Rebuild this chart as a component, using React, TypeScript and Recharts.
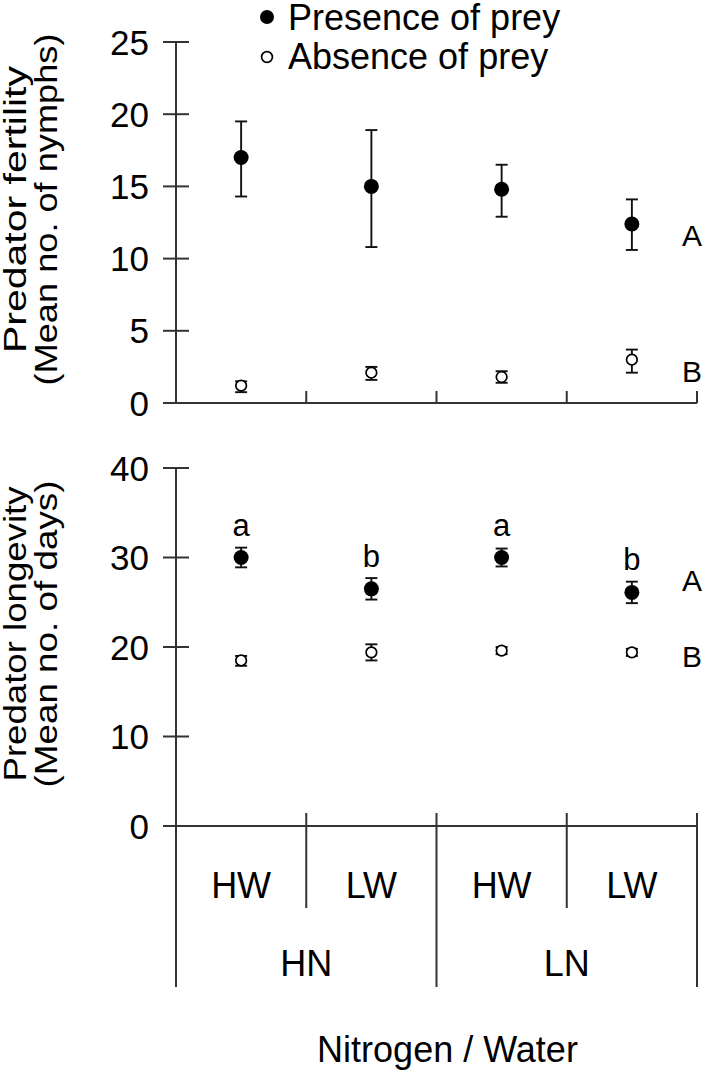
import React from "react";
import {
  ScatterChart,
  Scatter,
  XAxis,
  YAxis,
  ErrorBar,
  Legend,
  ReferenceDot,
} from "recharts";

const FONT = '"Liberation Sans", Arial, Helvetica, sans-serif';
const INK = "#000";
const LINE = "#333";

// legend / series names in display order
const seriesNames = ["Presence of prey", "Absence of prey"];

// treatments, left to right
const waterLevels = ["HW", "LW", "HW", "LW"];
const nitrogenLevels = ["HN", "LN"];

// fertility (mean no. of nymphs), with error bar ends
const fertilityPresence = [17.0, 15.0, 14.8, 12.4];
const fertilityPresenceLow = [14.3, 10.8, 12.9, 10.6];
const fertilityPresenceHigh = [19.5, 18.9, 16.5, 14.1];
const fertilityAbsence = [1.2, 2.1, 1.8, 3.0];
const fertilityAbsenceLow = [0.75, 1.6, 1.4, 2.1];
const fertilityAbsenceHigh = [1.5, 2.5, 2.2, 3.7];

// longevity (mean no. of days)
const longevityPresence = [30.0, 26.5, 30.0, 26.1];
const longevityPresenceLow = [28.9, 25.3, 29.0, 24.9];
const longevityPresenceHigh = [31.1, 27.7, 31.0, 27.3];
const longevityAbsence = [18.5, 19.4, 19.6, 19.4];
const longevityAbsenceLow = [17.9, 18.5, 19.2, 19.0];
const longevityAbsenceHigh = [19.0, 20.3, 20.0, 19.8];
const longevityLetters = ["a", "b", "a", "b"];

// group letters on the right
const fertilityGroups = [
  { letter: "A", y: 11.6 },
  { letter: "B", y: 2.2 },
];
const longevityGroups = [
  { letter: "A", y: 27.5 },
  { letter: "B", y: 19.0 },
];

const fertilityTicks = [0, 5, 10, 15, 20, 25];
const longevityTicks = [0, 10, 20, 30, 40];

type Pt = { pos: number; y: number; err: [number, number]; letter?: string };

const toPoints = (mean: number[], low: number[], high: number[], letters?: string[]): Pt[] =>
  mean.map((m, i) => ({
    pos: i + 0.5,
    y: m,
    err: [m - low[i], high[i] - m],
    letter: letters?.[i],
  }));

const FilledDot = (p: any) => <circle cx={p.cx} cy={p.cy} r={7.5} fill={INK} />;
const HollowDot = (p: any) => (
  <circle cx={p.cx} cy={p.cy} r={5.3} fill="#fff" stroke={INK} strokeWidth={1.7} />
);
const LetteredDot = (p: any) => (
  <g>
    <circle cx={p.cx} cy={p.cy} r={7.5} fill={INK} />
    <text x={p.cx} y={p.cy - 22} textAnchor="middle" fontSize={31} fontFamily={FONT} fill={INK}>
      {p.payload?.letter}
    </text>
  </g>
);

const GroupLetter = (p: any) => (
  <text
    x={p.cx - 5}
    y={p.cy}
    dy="0.358em"
    textAnchor="middle"
    fontSize={30}
    fontFamily={FONT}
    fill={INK}
  >
    {p.letter}
  </text>
);

// y ticks cross the axis line
const YTick = (props: any) => {
  const { x, y, payload } = props;
  return (
    <g>
      <line x1={x - 13} x2={x + 13} y1={y} y2={y} stroke={LINE} strokeWidth={2} />
      <text
        x={x - 27}
        y={y}
        dy="0.358em"
        textAnchor="end"
        fontSize={35}
        fontFamily={FONT}
        fill={INK}
      >
        {payload.value}
      </text>
    </g>
  );
};

// top panel: short dividers pointing up into the plot
const DividerTick = (props: any) => {
  const { x, y, payload } = props;
  if (payload.value === 0) return <g />;
  return <line x1={x} x2={x} y1={y - 12} y2={y} stroke={LINE} strokeWidth={2} />;
};

// bottom panel: nested category axis
const TreatmentTick = (props: any) => {
  const { x, y, payload } = props;
  const v = payload.value as number;
  if (Number.isInteger(v)) {
    const major = v % 2 === 0;
    return (
      <g>
        <line x1={x} x2={x} y1={y - 13} y2={y + (major ? 161 : 82)} stroke={LINE} strokeWidth={2} />
        {!major && (
          <text
            x={x}
            y={y + 137}
            dy="0.358em"
            textAnchor="middle"
            fontSize={36}
            fontFamily={FONT}
            fill={INK}
          >
            {nitrogenLevels[(v - 1) / 2]}
          </text>
        )}
      </g>
    );
  }
  return (
    <text x={x} y={y + 59} dy="0.358em" textAnchor="middle" fontSize={36} fontFamily={FONT} fill={INK}>
      {waterLevels[Math.floor(v)]}
    </text>
  );
};

// two-line rotated axis title; text is a bit stretched along its baseline in the original
const yTitle = (line1: string, len1: number, line2: string, len2: number) => (props: any) => {
  const vb = props.viewBox;
  const cy = vb.y + vb.height / 2 - 13;
  return (
    <g fontSize={32} fontFamily={FONT} fill={INK}>
      <text
        x={26}
        y={cy}
        transform={`rotate(-90, 26, ${cy})`}
        textAnchor="middle"
        textLength={len1}
        lengthAdjust="spacingAndGlyphs"
      >
        {line1}
      </text>
      <text
        x={57}
        y={cy}
        transform={`rotate(-90, 57, ${cy})`}
        textAnchor="middle"
        textLength={len2}
        lengthAdjust="spacingAndGlyphs"
      >
        {line2}
      </text>
    </g>
  );
};

const xTitle = (text: string) => (props: any) => {
  const vb = props.viewBox;
  return (
    <text
      x={vb.x + vb.width / 2 + 11}
      y={vb.y + vb.height - 11}
      textAnchor="middle"
      fontSize={36}
      fontFamily={FONT}
      fill={INK}
    >
      {text}
    </text>
  );
};

const renderLegend = (props: any) => {
  const payload = [...(props.payload ?? [])].sort(
    (a: any, b: any) => seriesNames.indexOf(a.value) - seriesNames.indexOf(b.value),
  );
  return (
    <div style={{ fontFamily: FONT, fontSize: 36, color: INK, lineHeight: "39px", marginTop: -2 }}>
      {payload.map((e: any) => (
        <div key={e.value} style={{ display: "flex", alignItems: "center", whiteSpace: "nowrap" }}>
          <svg width={24} height={39}>
            {e.color === "#fff" ? (
              <circle cx={12} cy={20} r={5.4} fill="#fff" stroke={INK} strokeWidth={1.7} />
            ) : (
              <circle cx={12} cy={19} r={7} fill={INK} />
            )}
          </svg>
          <span style={{ marginLeft: 9 }}>{e.value}</span>
        </div>
      ))}
    </div>
  );
};

const axisLine = { stroke: LINE, strokeWidth: 2 };
const errStyle = { stroke: "#111", strokeWidth: 1.9 };

export default function App() {
  const fertP = toPoints(fertilityPresence, fertilityPresenceLow, fertilityPresenceHigh);
  const fertA = toPoints(fertilityAbsence, fertilityAbsenceLow, fertilityAbsenceHigh);
  const longP = toPoints(longevityPresence, longevityPresenceLow, longevityPresenceHigh, longevityLetters);
  const longA = toPoints(longevityAbsence, longevityAbsenceLow, longevityAbsenceHigh);

  return (
    <div
      style={{
        position: "absolute",
        left: 0,
        top: 0,
        width: 709,
        height: 1073,
        background: "#fff",
        fontFamily: FONT,
      }}
    >
      {/* fertility */}
      <div style={{ position: "absolute", left: 0, top: 0 }}>
        <ScatterChart width={709} height={420} margin={{ top: 42, right: 12, bottom: 0, left: 0 }}>
          <XAxis
            type="number"
            dataKey="pos"
            domain={[0, 4]}
            ticks={[0, 1, 2, 3, 4]}
            interval={0}
            height={17}
            axisLine={axisLine}
            tickLine={false}
            tickSize={0}
            tickMargin={0}
            tick={DividerTick}
          />
          <YAxis
            type="number"
            dataKey="y"
            domain={[0, 25]}
            ticks={fertilityTicks}
            interval={0}
            width={176}
            axisLine={axisLine}
            tickLine={false}
            tickSize={0}
            tickMargin={0}
            tick={YTick}
            label={{ content: yTitle("Predator fertility", 287, "(Mean no. of nymphs)", 352) }}
          />
          <Legend
            layout="vertical"
            align="center"
            verticalAlign="middle"
            content={renderLegend}
            wrapperStyle={{ top: 0, left: 255, width: 330 }}
          />
          <Scatter
            name={seriesNames[0]}
            data={fertP}
            fill={INK}
            shape={FilledDot}
            isAnimationActive={false}
          >
            <ErrorBar dataKey="err" direction="y" width={6} {...errStyle} />
          </Scatter>
          <Scatter
            name={seriesNames[1]}
            data={fertA}
            fill="#fff"
            shape={HollowDot}
            isAnimationActive={false}
          >
            <ErrorBar dataKey="err" direction="y" width={6} {...errStyle} />
          </Scatter>
          {fertilityGroups.map((g) => (
            <ReferenceDot
              key={g.letter}
              x={4}
              y={g.y}
              r={0}
              shape={(p: any) => <GroupLetter {...p} letter={g.letter} />}
            />
          ))}
        </ScatterChart>
      </div>

      {/* longevity */}
      <div style={{ position: "absolute", left: 0, top: 430 }}>
        <ScatterChart width={709} height={643} margin={{ top: 38, right: 12, bottom: 0, left: 0 }}>
          <XAxis
            type="number"
            dataKey="pos"
            domain={[0, 4]}
            ticks={[0, 0.5, 1, 1.5, 2, 2.5, 3, 3.5, 4]}
            interval={0}
            height={247}
            axisLine={axisLine}
            tickLine={false}
            tickSize={0}
            tickMargin={0}
            tick={TreatmentTick}
            label={{ content: xTitle("Nitrogen / Water") }}
          />
          <YAxis
            type="number"
            dataKey="y"
            domain={[0, 40]}
            ticks={longevityTicks}
            interval={0}
            width={176}
            axisLine={axisLine}
            tickLine={false}
            tickSize={0}
            tickMargin={0}
            tick={YTick}
            label={{ content: yTitle("Predator longevity", 295, "(Mean no. of days)", 307) }}
          />
          <Scatter
            name={seriesNames[0]}
            data={longP}
            fill={INK}
            shape={LetteredDot}
            isAnimationActive={false}
          >
            <ErrorBar dataKey="err" direction="y" width={6} {...errStyle} />
          </Scatter>
          <Scatter
            name={seriesNames[1]}
            data={longA}
            fill="#fff"
            shape={HollowDot}
            isAnimationActive={false}
          >
            <ErrorBar dataKey="err" direction="y" width={6} {...errStyle} />
          </Scatter>
          {longevityGroups.map((g) => (
            <ReferenceDot
              key={g.letter}
              x={4}
              y={g.y}
              r={0}
              shape={(p: any) => <GroupLetter {...p} letter={g.letter} />}
            />
          ))}
        </ScatterChart>
      </div>
    </div>
  );
}
